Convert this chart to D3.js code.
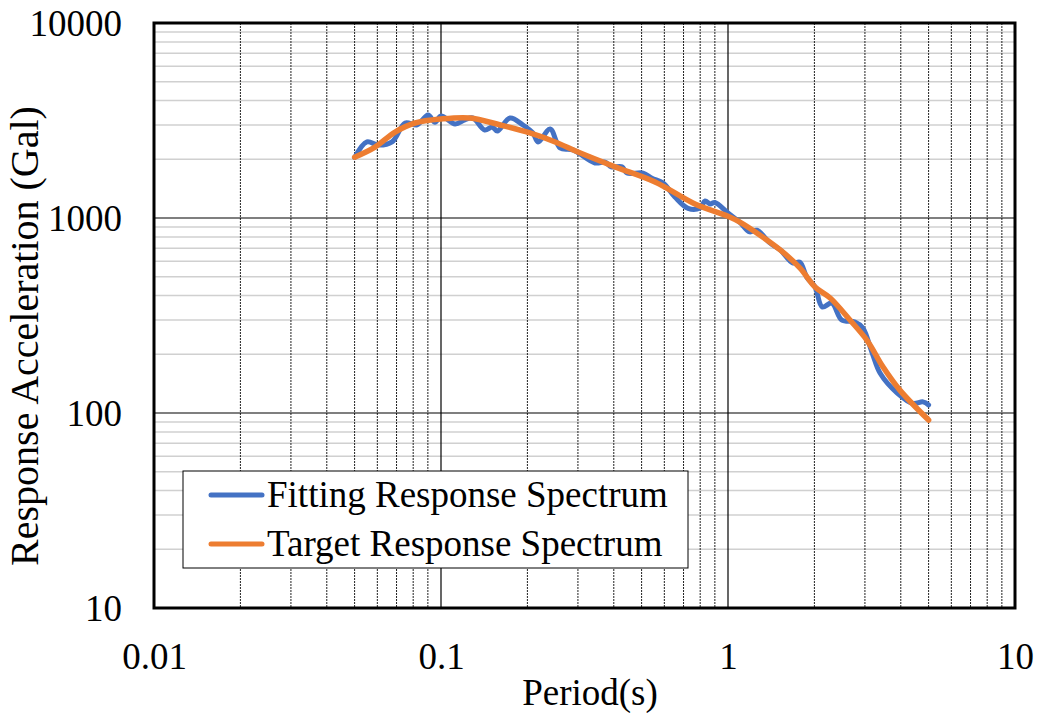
<!DOCTYPE html>
<html>
<head>
<meta charset="utf-8">
<script src="https://cdn.jsdelivr.net/npm/d3@7"></script>
<style>
  html, body { margin: 0; padding: 0; background: #fff; }
  svg { display: block; }
  text { font-family: "Liberation Serif", "Times New Roman", serif; fill: #000; }
</style>
</head>
<body>
<svg id="chart" width="1037" height="713"></svg>
<script>
// Fitting spectrum (period in s, acceleration in Gal)
const fitPeriod = [0.05, 0.0552, 0.0603, 0.0675, 0.075, 0.0825, 0.0901, 0.0953, 0.1, 0.112, 0.121, 0.129, 0.142, 0.151, 0.157, 0.174, 0.193, 0.209, 0.218, 0.240, 0.260, 0.288, 0.344, 0.373, 0.392, 0.427, 0.445, 0.506, 0.543, 0.594, 0.653, 0.726, 0.798, 0.832, 0.866, 0.90, 1.0, 1.10, 1.19, 1.26, 1.40, 1.52, 1.68, 1.78, 1.88, 2.01, 2.13, 2.30, 2.49, 2.77, 2.95, 3.18, 3.39, 3.88, 4.41, 4.78, 5.0];
const fitAccel  = [2040, 2455, 2365, 2455, 3070, 3000, 3375, 3100, 3335, 3035, 3185, 3260, 2825, 2930, 2790, 3260, 3000, 2730, 2455, 2860, 2285, 2235, 1915, 1935, 1830, 1830, 1700, 1700, 1600, 1510, 1282, 1120, 1125, 1222, 1180, 1200, 1060, 950, 848, 865, 745, 686, 588, 594, 498, 443, 350, 366, 300, 293, 273, 203, 160, 127, 112, 114, 110];

// Target spectrum
const targetPeriod = [0.05, 0.0589, 0.0692, 0.0812, 0.1, 0.126, 0.161, 0.204, 0.250, 0.300, 0.404, 0.557, 0.767, 1.0, 1.10, 1.29, 1.52, 1.78, 2.01, 2.27, 2.66, 3.05, 3.47, 3.97, 5.0];
const targetAccel  = [2050, 2310, 2760, 3070, 3220, 3260, 3000, 2730, 2455, 2180, 1830, 1530, 1180, 1020, 952, 818, 686, 555, 443, 389, 300, 236, 172, 131, 92];

const xTickLabels = ["0.01", "0.1", "1", "10"];
const yTickLabels = ["10", "100", "1000", "10000"];

const seriesNames = ["Fitting Response Spectrum", "Target Response Spectrum"];
const seriesColors = ["#4472C4", "#ED7D31"];

const svg = d3.select("#chart");
const L = 154, R = 1015, T = 23, B = 608;

const x = d3.scaleLog().domain([0.01, 10]).range([L, R]);
const y = d3.scaleLog().domain([10, 10000]).range([B, T]);

const grid = svg.append("g");

// minor gridlines
const minorVals = [];
[0.01, 0.1, 1].forEach(d => { for (let k = 2; k <= 9; k++) minorVals.push(d * k); });
const minorY = [];
[10, 100, 1000].forEach(d => { for (let k = 2; k <= 9; k++) minorY.push(d * k); });

grid.selectAll(".hminor").data(minorY).enter().append("line")
  .attr("x1", L).attr("x2", R)
  .attr("y1", d => y(d)).attr("y2", d => y(d))
  .attr("stroke", "#d0d0d0").attr("stroke-width", 1.5);

grid.selectAll(".vminor").data(minorVals).enter().append("line")
  .attr("x1", d => x(d)).attr("x2", d => x(d))
  .attr("y1", T).attr("y2", B)
  .attr("stroke", "#222").attr("stroke-width", 1)
  .attr("stroke-dasharray", "2,1");

// major gridlines
grid.selectAll(".hmajor").data([100, 1000]).enter().append("line")
  .attr("x1", L).attr("x2", R)
  .attr("y1", d => y(d)).attr("y2", d => y(d))
  .attr("stroke", "#000").attr("stroke-width", 1.2);
grid.selectAll(".vmajor").data([0.1, 1]).enter().append("line")
  .attr("x1", d => x(d)).attr("x2", d => x(d))
  .attr("y1", T).attr("y2", B)
  .attr("stroke", "#000").attr("stroke-width", 1.2);

// series
const fitData = fitPeriod.map((p, i) => [p, fitAccel[i]]);
const targetData = targetPeriod.map((p, i) => [p, targetAccel[i]]);
const line = d3.line().x(d => x(d[0])).y(d => y(d[1])).curve(d3.curveCatmullRom.alpha(0.5));

svg.append("path").datum(fitData)
  .attr("d", line).attr("fill", "none")
  .attr("stroke", seriesColors[0]).attr("stroke-width", 5)
  .attr("stroke-linejoin", "round").attr("stroke-linecap", "round");
svg.append("path").datum(targetData)
  .attr("d", line).attr("fill", "none")
  .attr("stroke", seriesColors[1]).attr("stroke-width", 5.5)
  .attr("stroke-linejoin", "round").attr("stroke-linecap", "round");

// plot border
svg.append("rect").attr("x", L).attr("y", T).attr("width", R - L).attr("height", B - T)
  .attr("fill", "none").attr("stroke", "#000").attr("stroke-width", 3);

// axes
const xAxis = d3.axisBottom(x).tickValues([0.01, 0.1, 1, 10])
  .tickFormat((d, i) => xTickLabels[i]).tickSize(0).tickPadding(0);
const gx = svg.append("g").attr("transform", `translate(0,${B})`).call(xAxis);
gx.select(".domain").remove();
gx.selectAll("text").attr("font-family", "Liberation Serif").attr("font-size", 37)
  .attr("fill", "#000").attr("dy", null).attr("y", 61);

const yAxis = d3.axisLeft(y).tickValues([10, 100, 1000, 10000])
  .tickFormat((d, i) => yTickLabels[i]).tickSize(0).tickPadding(0);
const gy = svg.append("g").attr("transform", `translate(${L},0)`).call(yAxis);
gy.select(".domain").remove();
gy.selectAll("text").attr("font-family", "Liberation Serif").attr("font-size", 37)
  .attr("fill", "#000").attr("x", -32).attr("dy", "0.33em");

// axis titles
svg.append("text").attr("x", 590).attr("y", 705)
  .attr("text-anchor", "middle").attr("font-size", 37).text("Period(s)");
svg.append("text").attr("transform", `translate(38,336) rotate(-90)`)
  .attr("text-anchor", "middle").attr("font-size", 40).text("Response Acceleration (Gal)");

// legend
const lg = svg.append("g");
lg.append("rect").attr("x", 183).attr("y", 471).attr("width", 505).attr("height", 97)
  .attr("fill", "#fff").attr("stroke", "#000").attr("stroke-width", 1);
seriesNames.forEach((name, i) => {
  const cy = 495 + i * 49;
  lg.append("line").attr("x1", 211).attr("x2", 262).attr("y1", cy).attr("y2", cy)
    .attr("stroke", seriesColors[i]).attr("stroke-width", 5).attr("stroke-linecap", "round");
  lg.append("text").attr("x", 267).attr("y", cy + 12).attr("font-size", 37).text(name);
});
</script>
</body>
</html>
